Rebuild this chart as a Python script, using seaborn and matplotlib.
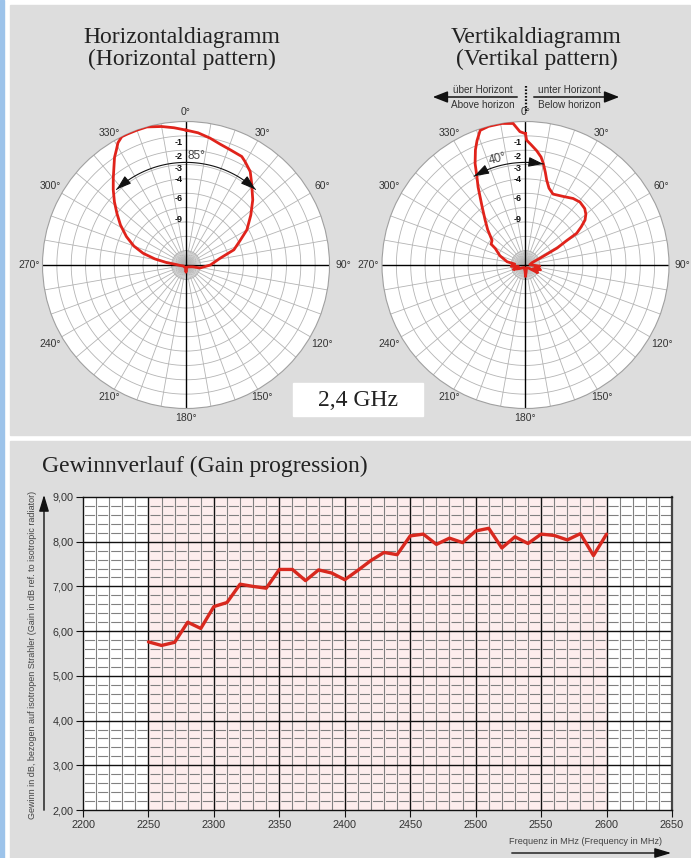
import numpy as np
import matplotlib
matplotlib.use("Agg")
import matplotlib.pyplot as plt
import seaborn as sns
from matplotlib.patches import Rectangle, FancyArrowPatch
from matplotlib.lines import Line2D

plt.rcParams['font.family'] = ['Liberation Sans', 'DejaVu Sans']
plt.rcParams['lines.scale_dashes'] = False

# ---------------- data ----------------
# Horizontal pattern: azimuth (deg, clockwise from 0) and relative field strength (1 = max)
h_angles = [0, 5.2, 10.7, 15.8, 21, 27.2, 29.7, 34.5, 38.8, 45.7, 52.4, 60, 66, 72.4, 79, 90, 102,
            105, 115, 130, 170, 180, 190, 250, 265, 273, 277, 281, 285.3, 290, 295.5, 301.4,
            306.7, 311.4, 316, 320.1, 323.8, 326.4, 329, 330.9, 333.4, 336, 340, 344.2, 350, 355, 360]
h_level = [0.94, 0.925, 0.90, 0.875, 0.86, 0.85, 0.83, 0.79, 0.73, 0.65, 0.57, 0.49, 0.41, 0.35,
           0.24, 0.17, 0.10, 0.05, 0.03, 0.02, 0.02, 0.05, 0.02, 0.02, 0.04, 0.07, 0.135, 0.22,
           0.31, 0.387, 0.46, 0.535, 0.60, 0.665, 0.73, 0.79, 0.85, 0.90, 0.94, 0.975, 1.0, 1.0,
           1.0, 1.0, 0.98, 0.96, 0.94]

# Vertical pattern: elevation angle (deg) and relative field strength
v_angles = [0, 0.5, 2.6, 5.6, 8.2, 9.9, 12.1, 14, 17, 21.2, 28.7, 35.6, 40.9, 46.4, 49.9, 52.9,
            55.6, 58.2, 59.4, 61.8, 65, 70, 85, 95, 100, 108, 115, 122, 135, 160, 175, 180, 185,
            210, 240, 250, 258, 265, 275, 280, 290, 298.7, 301.3, 306.5, 313, 318, 323, 326.3,
            328.7, 331.1, 333.6, 336.5, 338.7, 341.4, 345.1, 350.5, 355, 357.6, 360]
v_level = [0.915, 0.87, 0.84, 0.80, 0.76, 0.72, 0.66, 0.61, 0.56, 0.53, 0.545, 0.57, 0.58, 0.57,
           0.55, 0.52, 0.47, 0.42, 0.33, 0.25, 0.11, 0.05, 0.03, 0.10, 0.07, 0.11, 0.06, 0.10,
           0.03, 0.02, 0.05, 0.08, 0.04, 0.02, 0.05, 0.09, 0.05, 0.10, 0.075, 0.13, 0.19, 0.24,
           0.28, 0.29, 0.36, 0.42, 0.50, 0.57, 0.636, 0.70, 0.79, 0.875, 0.93, 0.99, 1.0, 1.0,
           0.99, 0.93, 0.915]

ring_db_labels = [-1, -2, -3, -4, -6, -9]
degree_ticks = list(range(0, 360, 30))
h_beam = (-42.5, 42.5)   # 85 deg
v_beam = (-30.0, 10.0)   # 40 deg

# Gain progression
freq = [2250, 2260, 2270, 2280, 2290, 2300, 2310, 2320, 2330, 2340, 2350, 2360, 2370, 2380,
        2390, 2400, 2410, 2420, 2430, 2440, 2450, 2460, 2470, 2480, 2490, 2500, 2510, 2520,
        2530, 2540, 2550, 2560, 2570, 2580, 2590, 2600]
gain = [5.76, 5.68, 5.75, 6.20, 6.06, 6.55, 6.64, 7.05, 7.00, 6.96, 7.38, 7.38, 7.13, 7.37,
        7.30, 7.15, 7.36, 7.58, 7.76, 7.71, 8.13, 8.17, 7.94, 8.08, 7.98, 8.24, 8.30, 7.86,
        8.11, 7.96, 8.17, 8.14, 8.04, 8.18, 7.69, 8.17]
x_ticks = list(range(2200, 2651, 50))
y_ticks = list(range(2, 10))
band = (2250, 2600)

# ---------------- figure ----------------
W, H = 691, 858
fig = plt.figure(figsize=(W / 100, H / 100), dpi=100, facecolor='white')

def fx(px):
    return px / W

def fy(py):
    return 1 - py / H

GRAY = '#dddddd'
fig.patches.append(Rectangle((0, 0), fx(4), 1, transform=fig.transFigure, color='#9cc3ea', zorder=-10))
fig.patches.append(Rectangle((fx(10), fy(435)), fx(680), 430 / H, transform=fig.transFigure,
                             color=GRAY, zorder=-10))
fig.patches.append(Rectangle((fx(10), 0), fx(680), fy(441), transform=fig.transFigure,
                             color=GRAY, zorder=-10))

SERIF = ['Liberation Serif', 'DejaVu Serif']
NARROW = ['Liberation Sans Narrow', 'Liberation Sans', 'DejaVu Sans']
RED = '#e0231b'
TXT = '#333333'

# titles
fig.text(fx(182), fy(38), 'Horizontaldiagramm', ha='center', va='center', fontsize=17, family=SERIF, color='#222')
fig.text(fx(182), fy(59), '(Horizontal pattern)', ha='center', va='center', fontsize=17, family=SERIF, color='#222')
fig.text(fx(536.5), fy(38), 'Vertikaldiagramm', ha='center', va='center', fontsize=17, family=SERIF, color='#222')
fig.text(fx(536.5), fy(59), '(Vertikal pattern)', ha='center', va='center', fontsize=17, family=SERIF, color='#222')

# 2,4 GHz box
fig.patches.append(Rectangle((fx(293), fy(416)), fx(130), 33 / H, transform=fig.transFigure,
                             color='white', zorder=-5))
fig.text(fx(358), fy(400), '2,4 GHz', ha='center', va='center', fontsize=17, family=SERIF, color='#222')

# horizon arrows
fig.add_artist(FancyArrowPatch((fx(520), fy(97)), (fx(430), fy(97)), transform=fig.transFigure,
                               arrowstyle='-|>,head_length=0.9,head_width=0.35', mutation_scale=10,
                               color='#111', lw=1.1))
fig.add_artist(FancyArrowPatch((fx(531), fy(97)), (fx(622), fy(97)), transform=fig.transFigure,
                               arrowstyle='-|>,head_length=0.9,head_width=0.35', mutation_scale=10,
                               color='#111', lw=1.1))
fig.add_artist(Line2D([fx(526), fx(526)], [fy(86), fy(113)], transform=fig.transFigure,
                      color='#111', lw=1.6, ls=(0, (1.2, 1.2))))
fig.text(fx(483), fy(90), 'über Horizont', ha='center', va='center', fontsize=7.2, color=TXT)
fig.text(fx(483), fy(104.5), 'Above horizon', ha='center', va='center', fontsize=7.2, color=TXT)
fig.text(fx(569), fy(90), 'unter Horizont', ha='center', va='center', fontsize=7.2, color=TXT)
fig.text(fx(569), fy(104.5), 'Below horizon', ha='center', va='center', fontsize=7.2, color=TXT)


def polar_panel(cx, cy, R, angles, levels, beam, beam_label, beam_lab_pos, beam_rot):
    ax = fig.add_axes([fx(cx - R), fy(cy + R), 2 * R / W, 2 * R / H], projection='polar')
    ax.set_theta_zero_location('N')
    ax.set_theta_direction(-1)
    ax.set_facecolor('white')
    ax.grid(False)
    ax.set_xticks([])
    ax.set_yticks([])
    ax.spines['polar'].set_color('#a0a0a0')
    ax.spines['polar'].set_linewidth(0.8)
    th = np.linspace(0, 2 * np.pi, 721)
    for r in np.arange(0.1, 0.95, 0.1):
        ax.plot(th, np.full_like(th, r), color='#b4b4b4', lw=0.6, zorder=1)
    for a in range(0, 360, 10):
        ax.plot([np.deg2rad(a)] * 2, [0, 1], color='#b4b4b4', lw=0.6, zorder=1)
    for a in range(0, 360, 5):
        if a % 10:
            ax.plot([np.deg2rad(a)] * 2, [0, 0.1], color='#b4b4b4', lw=0.5, zorder=1)
    for a in (0, 90, 180, 270):
        ax.plot([np.deg2rad(a)] * 2, [0, 1], color='black', lw=1.0, zorder=2)
    # pattern
    sns.lineplot(x=np.deg2rad(angles), y=levels, sort=False, estimator=None, color=RED, lw=2.0,
                 ax=ax, zorder=5, solid_joinstyle='round')
    ax.set_xlabel('')
    ax.set_ylabel('')
    ax.set_thetalim(0, 2 * np.pi)
    ax.set_ylim(0, 1)
    # degree labels
    for a in degree_ticks:
        rl = 1.065 if a in (0, 180, 30, 150, 210, 330) else 1.095
        ax.text(np.deg2rad(a), rl, f'{a}°', ha='center', va='center', fontsize=7.5, color=TXT)
    # dB ring labels
    for d in ring_db_labels:
        ax.annotate(f'{d}', xy=(0, 10 ** (d / 20)), xytext=(-2.5, -3.6), textcoords='offset points',
                    ha='right', va='center', fontsize=6.5, fontweight='bold', color='#111')
    # beamwidth arc
    rb = 0.715
    arc = np.deg2rad(np.linspace(beam[0], beam[1], 100))
    ax.plot(arc, np.full_like(arc, rb), color='#111', lw=0.8, zorder=6)
    for end, sgn in ((beam[0], 1), (beam[1], -1)):
        ax.annotate('', xy=(np.deg2rad(end), rb), xytext=(np.deg2rad(end + sgn * 4), rb),
                    arrowprops=dict(arrowstyle='-|>,head_length=0.9,head_width=0.3', color='#111',
                                    lw=0.8, shrinkA=0, shrinkB=0, mutation_scale=10), zorder=6)
    ax.text(np.deg2rad(beam_lab_pos[0]), beam_lab_pos[1], beam_label, ha='center', va='center',
            fontsize=8.5, color='#444', rotation=beam_rot, family=NARROW)
    return ax


polar_panel(186, 265, 143.5, h_angles, h_level, h_beam, '85°', (5.6, 0.765), 0)
polar_panel(525.5, 265, 143.5, v_angles, v_level, v_beam, '40°', (-14.7, 0.765), 14)

# ---------------- gain chart ----------------
fig.text(fx(42), fy(466), 'Gewinnverlauf (Gain progression)', ha='left', va='center', fontsize=17,
         family=SERIF, color='#222')

L, R_, T, B = 83, 672, 497, 810
ax = fig.add_axes([fx(L), fy(B), (R_ - L) / W, (B - T) / H])
ax.set_xlim(2200, 2650)
ax.set_ylim(2, 9)
ax.set_facecolor('white')
ax.axvspan(band[0], band[1], color='#fdeded', zorder=0, lw=0)

px_per_10 = (R_ - L) / 45.0
period_pt = px_per_10 * 72 / 100
gap_pt = 3.0 * 72 / 100
on_pt = period_pt - gap_pt
dash = (on_pt + gap_pt / 2, (on_pt, gap_pt))
for f in range(2210, 2650, 10):
    if f % 50:
        ax.axvline(f, color='#808080', lw=0.8, zorder=1)
for k in range(11, 45):
    g = k / 5
    if k % 5:
        ax.axhline(g, color='#808080', lw=0.8, ls=dash, zorder=1)
for f in x_ticks[1:-1]:
    ax.axvline(f, color='#111', lw=1.0, zorder=2)
for g in y_ticks[1:-1]:
    ax.axhline(g, color='#111', lw=1.0, zorder=2)

sns.lineplot(x=freq, y=gain, color='#d8281e', lw=2.4, ax=ax, zorder=5,
             solid_joinstyle='round', solid_capstyle='round')
ax.set_xlabel('')
ax.set_ylabel('')
ax.set_xlim(2200, 2650)
ax.set_ylim(2, 9)

ax.set_xticks(x_ticks)
ax.set_xticklabels([str(v) for v in x_ticks])
ax.set_yticks(y_ticks)
ax.set_yticklabels([f'{v},00' for v in y_ticks])
ax.tick_params(axis='both', direction='out', length=5, width=0.8, color='#111', labelsize=7.8,
               labelcolor=TXT, bottom=True, left=True, pad=2)
for s in ax.spines.values():
    s.set_color('#111')
    s.set_linewidth(1.0)
ax.spines['right'].set_color('#444')
ax.spines['right'].set_linewidth(1.6)

# axis labels with arrows
fig.text(fx(33), fy(655), 'Gewinn in dB, bezogen auf isotropen Strahler (Gain in dB ref. to isotropic radiator)',
         rotation=90, ha='center', va='center', fontsize=6.5, color='#444', family=NARROW)
fig.add_artist(FancyArrowPatch((fx(44), fy(813)), (fx(44), fy(492)), transform=fig.transFigure,
                               arrowstyle='-|>,head_length=1.0,head_width=0.3', mutation_scale=10,
                               color='#111', lw=1.0))
fig.text(fx(509), fy(842), 'Frequenz in MHz (Frequency in MHz)', ha='left', va='center', fontsize=6.6,
         color='#444', family=NARROW)
fig.add_artist(FancyArrowPatch((fx(509), fy(853)), (fx(674), fy(853)), transform=fig.transFigure,
                               arrowstyle='-|>,head_length=1.0,head_width=0.3', mutation_scale=10,
                               color='#111', lw=1.0))

fig.savefig('out.png', dpi=100, facecolor='white')
